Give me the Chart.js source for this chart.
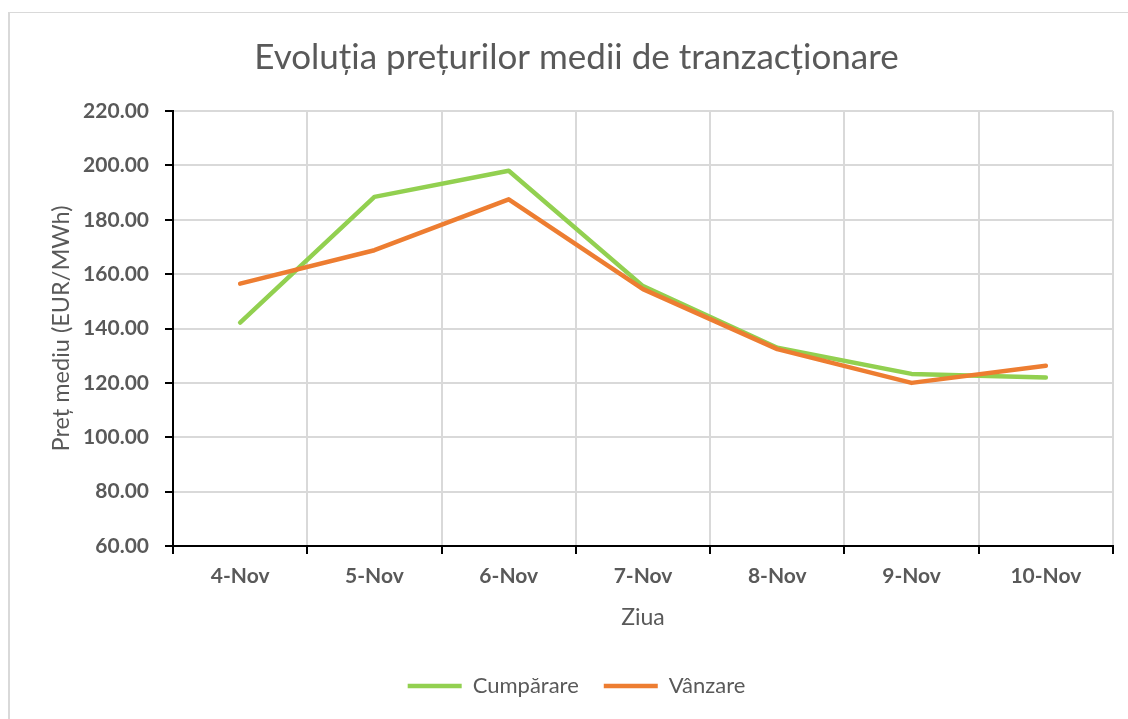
<!DOCTYPE html>
<html>
<head>
<meta charset="utf-8">
<script src="https://cdn.jsdelivr.net/npm/chart.js@4"></script>
<style>
  html, body { margin: 0; padding: 0; background: #fff; overflow: hidden; }
  #frame {
    position: absolute; left: 8px; top: 12px; width: 1300px; height: 900px;
    border-left: 2px solid #d9d9d9; border-top: 1px solid #d9d9d9;
  }
  #chart-canvas { position: absolute; left: 0; top: 0; }
</style>
</head>
<body>
<div id="frame"></div>
<canvas id="chart-canvas" width="1128" height="719"></canvas>
<script>
// data
const days = ['4-Nov', '5-Nov', '6-Nov', '7-Nov', '8-Nov', '9-Nov', '10-Nov'];
const cumparare = [142.2, 188.4, 198.0, 155.6, 132.9, 123.3, 122.0];
const vanzare = [156.5, 168.8, 187.5, 154.5, 132.4, 120.0, 126.3];

const textColor = '#595959';
const gridColor = '#d9d9d9';

const chart = new Chart(document.getElementById('chart-canvas'), {
  type: 'line',
  data: {
    labels: days,
    datasets: [
      {
        label: 'Cumpărare',
        data: cumparare,
        borderColor: '#92d050',
        backgroundColor: '#92d050',
        borderWidth: 4.5,
        borderCapStyle: 'round',
        borderJoinStyle: 'round',
        pointRadius: 0,
        tension: 0,
        order: 1,
      },
      {
        label: 'Vânzare',
        data: vanzare,
        borderColor: '#ed7d31',
        backgroundColor: '#ed7d31',
        borderWidth: 4.5,
        borderCapStyle: 'round',
        borderJoinStyle: 'round',
        pointRadius: 0,
        tension: 0,
        order: 0,
      },
    ],
  },
  options: {
    responsive: false,
    animation: false,
    layout: { padding: { left: 40, right: 15, top: 0, bottom: 12 } },
    scales: {
      x: {
        offset: true,
        grid: { offset: true, color: gridColor, lineWidth: 2, tickColor: '#000', tickLength: 8 },
        border: { color: '#000', width: 2 },
        ticks: { color: textColor, padding: 10, font: { family: 'Lato', size: 21, weight: 'bold' } },
        title: {
          display: true,
          text: 'Ziua',
          color: textColor,
          padding: { top: 0, bottom: 18.7 },
          font: { family: 'Lato', size: 23 },
        },
        afterFit: (scale) => { scale.height = 104; },
      },
      y: {
        min: 60,
        max: 220,
        grid: { color: gridColor, lineWidth: 2, tickColor: '#000', tickLength: 8 },
        border: { color: '#000', width: 2 },
        ticks: {
          stepSize: 20,
          color: textColor,
          padding: 16,
          font: { family: 'Lato', size: 21, weight: 'bold' },
          callback: (v) => Number(v).toFixed(2),
        },
        title: {
          display: true,
          text: 'Preț mediu (EUR/MWh)',
          color: textColor,
          padding: { top: 7, bottom: 0 },
          font: { family: 'Lato', size: 23.5 },
        },
        afterFit: (scale) => { scale.width = 133; },
      },
    },
    plugins: {
      title: {
        display: true,
        text: 'Evoluția prețurilor medii de tranzacționare',
        color: textColor,
        padding: { top: 37, bottom: 32 },
        font: { family: 'Lato', size: 35, weight: 'normal' },
      },
      legend: {
        display: true,
        position: 'bottom',
        labels: {
          color: textColor,
          font: { family: 'Lato', size: 22 },
          usePointStyle: true,
          pointStyle: 'line',
          pointStyleWidth: 54,
          padding: 25,
          sort: (a, b) => a.datasetIndex - b.datasetIndex,
        },
      },
      tooltip: { enabled: false },
    },
  },
});
</script>
</body>
</html>
